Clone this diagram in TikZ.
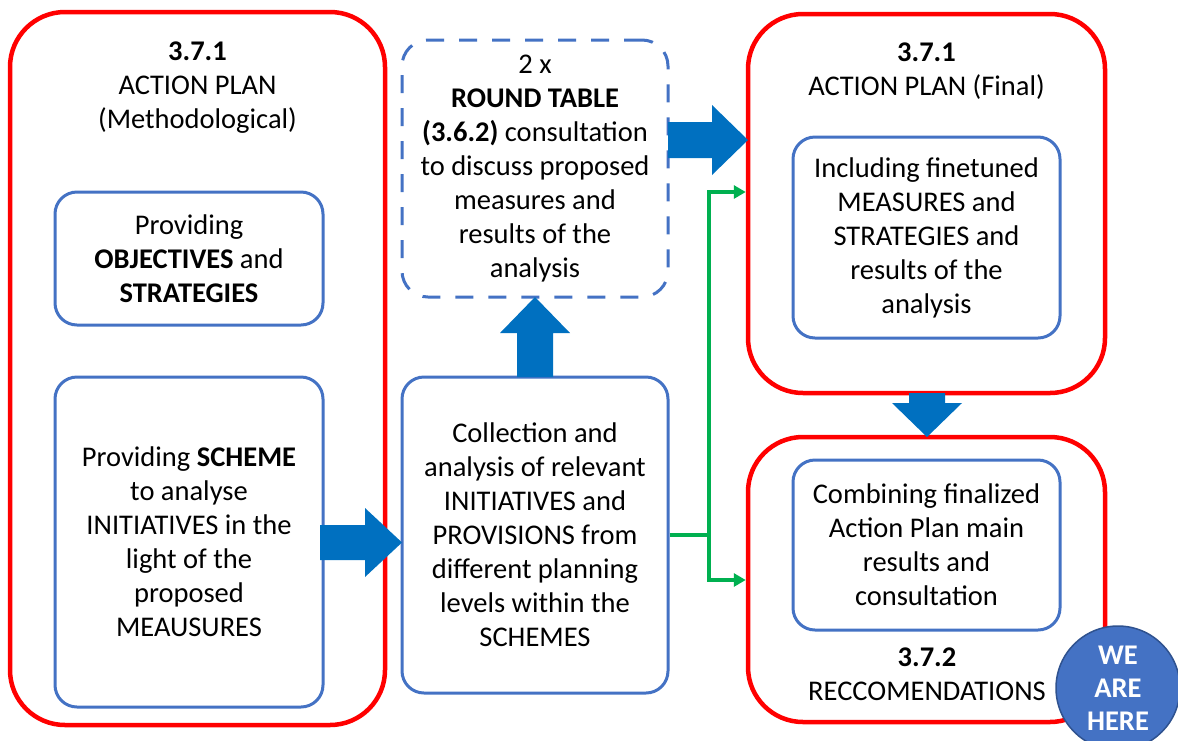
\documentclass[tikz,border=0pt]{standalone}
\usepackage{fontspec}
\setmainfont{Carlito}
\usetikzlibrary{arrows.meta}
\definecolor{redc}{HTML}{FF0000}
\definecolor{bluec}{HTML}{4472C4}
\definecolor{arrowc}{HTML}{0070C0}
\definecolor{greenc}{HTML}{00B050}
\definecolor{circb}{HTML}{2F528F}
\newcommand\txtsize{\fontsize{28.5}{34}\selectfont}
\begin{document}
\begin{tikzpicture}[x=1pt,y=-1pt,
  redbox/.style={draw=redc, line width=4.5pt, rounded corners=55pt, minimum width=#1},
  bluebox/.style={draw=bluec, line width=3pt, rounded corners=22pt, align=center, font=\txtsize, inner sep=0pt},
  dashbox/.style={draw=bluec, line width=3pt, dash pattern=on 18pt off 15pt, rounded corners=26pt, align=center, font=\txtsize, inner sep=0pt},
  label/.style={align=center, font=\txtsize, inner sep=0pt},
  blockarrow/.style={fill=arrowc, draw=none},
  gline/.style={draw=greenc, line width=4pt},
  ghead/.style={-{Triangle[length=12pt,width=13pt]}}
]
\useasboundingbox (0,0) rectangle (1178,740);
\fill[white] (0,0) rectangle (1178,740);

% red containers
\node[redbox=375pt, minimum height=713pt] (left) at (197.5,368.5) {};
\node[redbox=357pt, minimum height=379pt] (final) at (926.5,203.5) {};
\node[redbox=357pt, minimum height=285pt] (rec) at (926.5,579.5) {};

% titles
\node[label] (lt) at (197.5,87.5) {\textbf{3.7.1}\\ACTION PLAN\\(Methodological)};
\node[label] (ft) at (926.5,71.5) {\textbf{3.7.1}\\ACTION PLAN (Final)};
\node[label] (rt) at (927,674) {\textbf{3.7.2}\\RECCOMENDATIONS};

% blue boxes
\node[bluebox, minimum width=268pt, minimum height=133pt] (obj) at (189,258.5)
  {Providing\\\textbf{OBJECTIVES} and\\\textbf{STRATEGIES}};
\node[bluebox, minimum width=268pt, minimum height=330pt] (scheme) at (189,542)
  {Providing \textbf{SCHEME}\\to analyse\\INITIATIVES in the\\light of the\\proposed\\MEAUSURES};
\node[bluebox, minimum width=266pt, minimum height=316pt] (mid) at (535,535)
  {Collection and\\analysis of relevant\\INITIATIVES and\\PROVISIONS from\\different planning\\levels within the\\SCHEMES};
\node[dashbox, minimum width=266pt, minimum height=257pt] (round) at (535,168.5)
  {2 x\\\textbf{ROUND TABLE}\\\textbf{(3.6.2)} consultation\\to discuss proposed\\measures and\\results of the\\analysis};
\node[bluebox, minimum width=267pt, minimum height=201pt] (fine) at (926.5,237.5)
  {Including finetuned\\MEASURES and\\STRATEGIES and\\results of the\\analysis};
\node[bluebox, minimum width=267pt, minimum height=170pt] (comb) at (926.5,545)
  {Combining finalized\\Action Plan main\\results and\\consultation};

% block arrows
\fill[blockarrow] (320,525) -- (365,525) -- (365,508) -- (402,542.5) -- (365,577) -- (365,560) -- (320,560) -- cycle;
\fill[blockarrow] (517,377) -- (517,333) -- (500,333) -- (535,297) -- (570,333) -- (553,333) -- (553,377) -- cycle;
\fill[blockarrow] (668,122) -- (712,122) -- (712,105) -- (748,140) -- (712,175) -- (712,158) -- (668,158) -- cycle;
\fill[blockarrow] (909,393) -- (945,393) -- (945,403) -- (962,403) -- (927,437) -- (892,403) -- (909,403) -- cycle;

% green connector
\coordinate (gj) at (709,535);
\coordinate (gt) at (709,192);
\coordinate (gb) at (709,580);
\draw[gline] (mid.east) -- (gj);
\draw[gline, ghead] (gj) -- (gt) -- (final.west |- gt);
\draw[gline, ghead] (gj) -- (gb) -- (rec.west |- gb);

% we are here
\node[circle, fill=bluec, draw=circb, line width=1.5pt, minimum size=124pt, inner sep=0pt,
  text=white, align=center, font=\fontsize{28.5}{33}\selectfont\bfseries] (here) at (1118,688)
  {WE\\ARE\\HERE};
\end{tikzpicture}
\end{document}
